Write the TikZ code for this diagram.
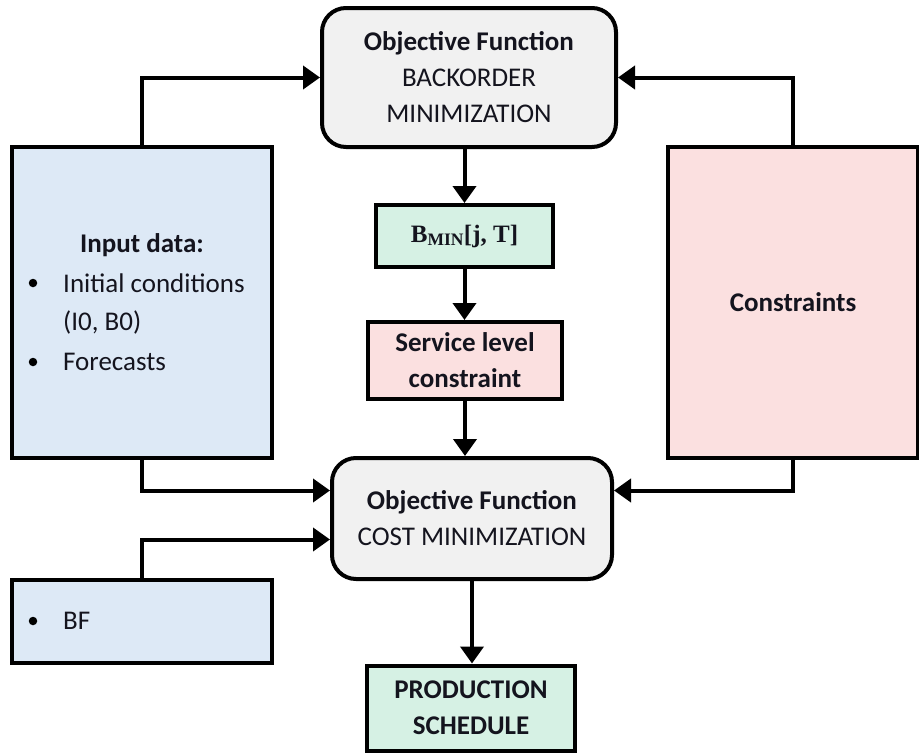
\documentclass[tikz,border=0pt]{standalone}
\usepackage{fontspec}
\setmainfont{Carlito}
\newfontfamily\seriffam{Liberation Serif}
\usetikzlibrary{arrows.meta}

\definecolor{fillgray}{HTML}{F1F1F1}
\definecolor{fillblue}{HTML}{DDE9F6}
\definecolor{fillpink}{HTML}{FBE0E0}
\definecolor{fillgreen}{HTML}{D6F1E4}
\definecolor{inktext}{HTML}{14141E}

\newcommand{\bigtext}{\fontsize{27}{36}\selectfont}
\newcommand{\formulatext}{\fontsize{25}{30}\selectfont\seriffam\bfseries}

\tikzset{
  box/.style={draw=black, line width=4pt, inner sep=0pt, align=center,
    text=inktext, font=\bigtext},
  objbox/.style={box, fill=fillgray, rounded corners=24pt},
  databox/.style={box, fill=fillblue},
  consbox/.style={box, fill=fillpink},
  resbox/.style={box, fill=fillgreen},
  txt/.style={inner sep=0pt, text=inktext, font=\bigtext},
  bullet/.style={circle, fill=black, inner sep=0pt, minimum size=8.5pt},
  arr/.style={line width=4pt, -{Triangle[length=17pt,width=23pt]}},
}

\begin{document}
\begin{tikzpicture}[x=1pt,y=-1pt]
\useasboundingbox[fill=white] (0,0) rectangle (919,753);

% objective boxes
\node[objbox, minimum width=294pt, minimum height=139pt] (obj1) at (469,77.5)
  {\textbf{Objective Function}\\BACKORDER\\MINIMIZATION};
\node[objbox, minimum width=280pt, minimum height=121pt] (cost) at (472,518.5)
  {\textbf{Objective Function}\\COST MINIMIZATION};

% data boxes on the left
\node[databox, minimum width=260pt, minimum height=311pt] (input) at (142,302.5) {};
\node[txt] (inhead) at (142,245) {\textbf{Input data:}};
\node[bullet] (b1) at (33,283) {};
\node[txt, anchor=west] (t1) at (63,283) {Initial conditions};
\node[txt, anchor=west] (t2) at (63,322) {(I0, B0)};
\node[bullet] (b2) at (33,362) {};
\node[txt, anchor=west] (t3) at (63,362) {Forecasts};

\node[databox, minimum width=260pt, minimum height=83pt] (bf) at (142,621.5) {};
\node[bullet] (b3) at (33,621) {};
\node[txt, anchor=west] (t4) at (63,621) {BF};

% constraints
\node[consbox, minimum width=250pt, minimum height=311pt] (cons) at (793,302.5)
  {\textbf{Constraints}};
\node[consbox, minimum width=194pt, minimum height=77pt] (svc) at (465,360.5)
  {\textbf{Service level}\\\textbf{constraint}};

% results
\node[resbox, minimum width=177pt, minimum height=62pt] (bmin) at (464.5,236)
  {\formulatext B\textsubscript{MIN}[j, T]};
\node[resbox, minimum width=208pt, minimum height=85pt] (prod) at (471,708)
  {\textbf{PRODUCTION}\\\textbf{SCHEDULE}};

% connectors
\draw[arr] (input.north) |- (obj1.west);
\draw[arr] (cons.north) |- (obj1.east);
\draw[arr] (obj1.south -| bmin.north) -- (bmin.north);
\draw[arr] (bmin.south) -- (bmin.south |- svc.north);
\draw[arr] (svc.south) -- (svc.south |- cost.north);
\draw[arr] (input.south) |- ([yshift=28pt]cost.west);
\draw[arr] (cons.south) |- ([yshift=28pt]cost.east);
\draw[arr] (bf.north) |- ([yshift=-21pt]cost.west);
\draw[arr] (cost.south) -- (cost.south |- prod.north);
\end{tikzpicture}
\end{document}
